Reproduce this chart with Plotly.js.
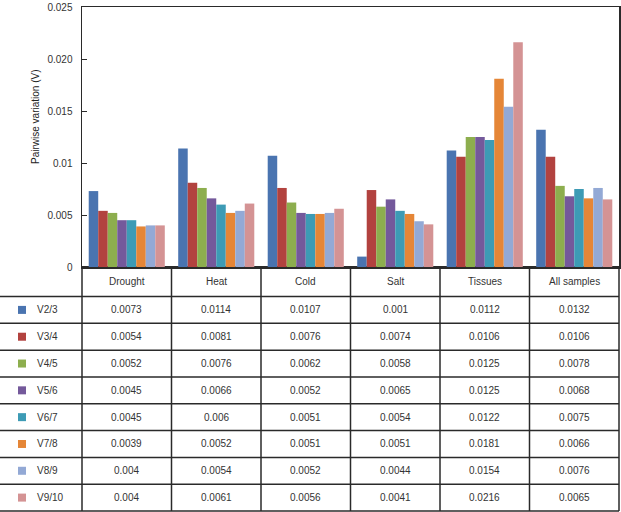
<!DOCTYPE html>
<html>
<head>
<meta charset="utf-8">
<script src="https://cdn.plot.ly/plotly-3.0.1.min.js"></script>
<style>html,body{margin:0;padding:0;background:#fff;}#chart{width:621px;height:512px;}</style>
</head>
<body>
<div id="chart"></div>
<script>
var categories = ["Drought", "Heat", "Cold", "Salt", "Tissues", "All samples"];
var seriesNames = ["V2/3", "V3/4", "V4/5", "V5/6", "V6/7", "V7/8", "V8/9", "V9/10"];
var v23  = [0.0073, 0.0114, 0.0107, 0.001,  0.0112, 0.0132];
var v34  = [0.0054, 0.0081, 0.0076, 0.0074, 0.0106, 0.0106];
var v45  = [0.0052, 0.0076, 0.0062, 0.0058, 0.0125, 0.0078];
var v56  = [0.0045, 0.0066, 0.0052, 0.0065, 0.0125, 0.0068];
var v67  = [0.0045, 0.006,  0.0051, 0.0054, 0.0122, 0.0075];
var v78  = [0.0039, 0.0052, 0.0051, 0.0051, 0.0181, 0.0066];
var v89  = [0.004,  0.0054, 0.0052, 0.0044, 0.0154, 0.0076];
var v910 = [0.004,  0.0061, 0.0056, 0.0041, 0.0216, 0.0065];
var yTickVals = [0, 0.005, 0.01, 0.015, 0.02, 0.025];
var yTickText = ["0", "0.005", "0.01", "0.015", "0.020", "0.025"];
var yTitle = "Pairwise variation (V)";

var seriesValues = [v23, v34, v45, v56, v67, v78, v89, v910];
var colors = ["#4A74B0", "#B2423F", "#8DAE4E", "#74599B", "#3D9BB5", "#E58637", "#93A9D5", "#D49394"];

var W = 621, H = 512, mL = 82, mR = 2, mT = 7, mB = 245;
var pw = W - mL - mR, ph = H - mT - mB;
function xp(px) { return (px - mL) / pw; }
function yp(py) { return (H - mB - py) / ph; }

var traces = seriesValues.map(function (vals, i) {
  return {
    type: "bar",
    name: seriesNames[i],
    x: categories,
    y: vals,
    marker: {color: colors[i], line: {width: 0}},
    hoverinfo: "x+y+name"
  };
});

var lineCol = "#2a2a2a";
var shapes = [];
var annotations = [];
var txtFont = {family: "Arial, Liberation Sans, sans-serif", size: 10, color: "#333"};

// table geometry
var headerTop = 267, headerBottom = 296.5, tableBottom = 511;
var rowH = (tableBottom - headerBottom) / seriesNames.length;
var nC = categories.length;

// horizontal lines
for (var r = 0; r <= seriesNames.length; r++) {
  var yy = headerBottom + r * rowH;
  shapes.push({type: "line", xref: "paper", yref: "paper", x0: xp(0), x1: 1, y0: yp(yy), y1: yp(yy),
    line: {color: lineCol, width: 1.5}});
}
// vertical lines
for (var c = 0; c <= nC; c++) {
  shapes.push({type: "line", xref: "paper", yref: "paper", x0: c / nC, x1: c / nC, y0: 0, y1: yp(tableBottom),
    line: {color: lineCol, width: 1.5}});
}

// header text
categories.forEach(function (cat, c) {
  annotations.push({xref: "x", yref: "paper", x: cat, y: yp((headerTop + headerBottom) / 2),
    text: cat, showarrow: false, font: txtFont, xanchor: "center", yanchor: "middle"});
});

// rows
seriesNames.forEach(function (nm, r) {
  var cy = headerBottom + (r + 0.5) * rowH;
  shapes.push({type: "rect", xref: "paper", yref: "paper", x0: xp(18), x1: xp(26), y0: yp(cy - 4), y1: yp(cy + 4),
    fillcolor: colors[r], line: {width: 0}});
  annotations.push({xref: "paper", yref: "paper", x: xp(35), y: yp(cy), text: nm, showarrow: false,
    font: txtFont, xanchor: "left", yanchor: "middle"});
  categories.forEach(function (cat, c) {
    annotations.push({xref: "x", yref: "paper", x: cat, y: yp(cy), text: String(seriesValues[r][c]),
      showarrow: false, font: txtFont, xanchor: "center", yanchor: "middle"});
  });
});

// y-axis title
annotations.push({xref: "paper", yref: "paper", x: xp(35), y: yp(117), text: yTitle, textangle: -90,
  showarrow: false, font: {family: "Arial, Liberation Sans, sans-serif", size: 10, color: "#222"},
  xanchor: "center", yanchor: "middle"});

var layout = {
  width: W, height: H,
  margin: {l: mL, r: mR, t: mT, b: mB, pad: 0},
  paper_bgcolor: "#fff", plot_bgcolor: "#fff",
  showlegend: false,
  barmode: "group", bargap: 0.15, bargroupgap: 0,
  xaxis: {type: "category", range: [-0.5, nC - 0.5], showticklabels: false, ticks: "",
    showgrid: false, zeroline: false, showline: true, linecolor: lineCol, linewidth: 1.5, mirror: true, fixedrange: true},
  yaxis: {range: [0, 0.025], tickvals: yTickVals, ticktext: yTickText, ticks: "inside", ticklen: 5,
    tickcolor: lineCol, tickwidth: 1, showgrid: false, zeroline: true, zerolinecolor: lineCol, zerolinewidth: 2,
    showline: true, linecolor: lineCol, linewidth: 1.5, mirror: true, ticklabelstandoff: 6,
    ticklabeloverflow: "allow",
    tickfont: {family: "Arial, Liberation Sans, sans-serif", size: 10, color: "#333"}, fixedrange: true},
  shapes: shapes,
  annotations: annotations
};

Plotly.newPlot("chart", traces, layout, {displayModeBar: false, staticPlot: true});
</script>
</body>
</html>
